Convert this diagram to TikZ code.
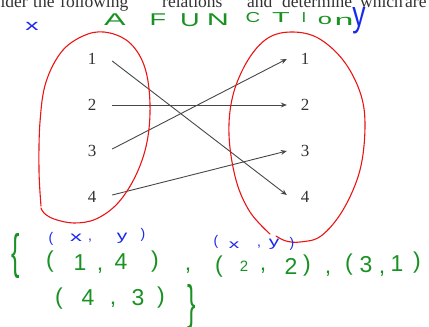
\documentclass[tikz,border=0pt]{standalone}
\usepackage{fontspec}
\setmainfont{Liberation Serif}
\newfontfamily\hand{Liberation Sans}
\usetikzlibrary{arrows.meta}
\definecolor{hgreen}{RGB}{25,145,35}
\definecolor{hblue}{RGB}{25,40,235}
\definecolor{hred}{RGB}{235,20,20}
\definecolor{numgray}{RGB}{50,50,50}
\begin{document}
\begin{tikzpicture}[x=1pt,y=-1pt,
  word/.style={anchor=base west, font=\fontsize{17.5}{21}\selectfont, text=numgray, inner sep=0pt},
  lnum/.style={font=\fontsize{17}{20}\selectfont, text=numgray, minimum width=40pt, inner sep=0pt, text height=11pt, text depth=0pt},
  rnum/.style={font=\fontsize{17}{20}\selectfont, text=numgray, minimum width=36pt, inner sep=0pt, text height=11pt, text depth=0pt},
  arr/.style={-{Stealth[length=6pt,width=5pt]}, draw=numgray!90, line width=0.9pt},
  gr/.style={font=\hand\fontsize{23}{26}\selectfont, text=hgreen, inner sep=0pt},
  sgr/.style={font=\hand\fontsize{15}{18}\selectfont, text=hgreen, inner sep=0pt},
  title/.style={font=\hand\fontsize{17}{20}\selectfont, text=hgreen, inner sep=0pt},
  bl/.style={font=\hand\fontsize{14}{16}\selectfont, text=hblue, inner sep=0pt},
  loop/.style={draw=hred, line width=1.1pt, line cap=round, line join=round}]
\useasboundingbox (0,0) rectangle (429,327);
\begin{scope}
\clip (0,0) rectangle (429,327);
% cut-off printed line at the top
\node[word, anchor=base east] (w1) at (28,7) {Consider};
\node[word] (w2) at (33,7) {the};
\node[word] (w3) at (60,7) {following};
\node[word] (w4) at (162,7) {relations};
\node[word] (w5) at (247,7) {and};
\node[word] (w6) at (282,7) {determine};
\node[word] (w7) at (360,7) {which};
\node[word] (w8) at (405,7) {are};
% number columns
\node[lnum] (l1) at (92,59) {1};
\node[lnum] (l2) at (92,105) {2};
\node[lnum] (l3) at (92,151) {3};
\node[lnum] (l4) at (92,197) {4};
\node[rnum] (r1) at (305,59) {1};
\node[rnum] (r2) at (305,105) {2};
\node[rnum] (r3) at (305,151) {3};
\node[rnum] (r4) at (305,197) {4};
\draw[arr] ([yshift=-2pt]l1.east) -- ([yshift=2pt]r4.west);
\draw[arr] (l2.east) -- (r2.west);
\draw[arr] ([yshift=2pt]l3.east) -- (r1.west);
\draw[arr] ([yshift=2pt]l4.east) -- (r3.west);
% red loops
\draw[loop] plot[smooth, tension=0.6] coordinates {(41,206) (39,170) (40,122) (46,82) (63,50) (88,34) (110,33) (131,44) (145,68) (150,104) (147,142) (136,175) (118,203) (96,219) (74,223) (54,219) (44,213) (41,208)};
\draw[loop] plot[smooth, tension=0.6] coordinates {(270,234) (250,212) (236,180) (229,135) (233,95) (248,60) (268,38) (292,32) (318,38) (343,60) (360,92) (365,125) (360,170) (343,210) (321,236) (300,242) (286,241) (276,236)};
% handwritten title
\node[bl] (hx) at (32,26) {\scalebox{1.9}[1.1]{x}};
\node[title] (tA) at (115,19.5) {\scalebox{1.9}[1]{A}};
\node[title] (tF) at (158,19.5) {\scalebox{1.6}[1]{F}};
\node[title] (tU) at (190,20.5) {\scalebox{1.6}[1.1]{U}};
\node[title] (tN) at (218,19.5) {\scalebox{1.8}[1]{N}};
\node[title] (tC) at (253,18) {\scalebox{1.2}[0.85]{C}};
\node[title] (tT) at (281,18) {\scalebox{1.7}[0.85]{T}};
\node[title] (tI) at (304,18) {\scalebox{1}[0.85]{I}};
\node[title] (tO) at (325,20.5) {\scalebox{1.5}[0.9]{o}};
\node[title] (tN2) at (344,21) {\scalebox{2}[0.9]{n}};
\node[bl, font=\hand\fontsize{24}{26}\selectfont] (hy) at (359,21) {\scalebox{1.1}[1.5]{y}};
% blue (x, y) labels
\node[bl] (a1) at (51,239) {(};
\node[bl] (a2) at (76,238) {\scalebox{1.7}[1]{x}};
\node[bl] (a3) at (90,241) {,};
\node[bl] (a4) at (122,238) {\scalebox{1.5}[1]{y}};
\node[bl] (a5) at (143,235) {)};
\node[bl] (b1) at (216,242) {(};
\node[bl] (b2) at (234,245) {\scalebox{1.5}[0.9]{x}};
\node[bl] (b3) at (259,247) {,};
\node[bl] (b4) at (274,244) {\scalebox{1.5}[1]{y}};
\node[bl] (b5) at (292,244) {)};
% green set of pairs
\node[gr] (lb) at (16,256) {\scalebox{1.1}[2.1]{\{}};
\node[gr] (c11) at (50,262) {(};
\node[gr] (c12) at (80,263) {1};
\node[gr] (c13) at (100,271) {,};
\node[gr] (c14) at (121,262) {4};
\node[gr] (c15) at (155,262) {)};
\node[gr] (k1) at (188,271) {,};
\node[gr] (c21) at (219,267) {(};
\node[sgr] (c22) at (244,266) {2};
\node[gr] (c23) at (263,271) {,};
\node[gr] (c24) at (291,266) {2};
\node[gr] (c25) at (307,266) {)};
\node[gr] (k2) at (328,274) {,};
\node[gr] (c31) at (349,265) {(};
\node[gr] (c32) at (366,265) {3};
\node[gr] (c33) at (382,274) {,};
\node[gr] (c34) at (397,264) {1};
\node[gr] (c35) at (417,263) {)};
\node[gr] (c41) at (59,299) {(};
\node[gr] (c42) at (88,298) {4};
\node[gr] (c43) at (113,305) {,};
\node[gr] (c44) at (138,298) {3};
\node[gr] (c45) at (161,298) {)};
\node[gr] (rb) at (192,307) {\scalebox{1.1}[2.1]{\}}};
\node[bl, font=\hand\fontsize{10}{12}\selectfont] (ten) at (351,331) {10};
\end{scope}
\end{tikzpicture}
\end{document}
